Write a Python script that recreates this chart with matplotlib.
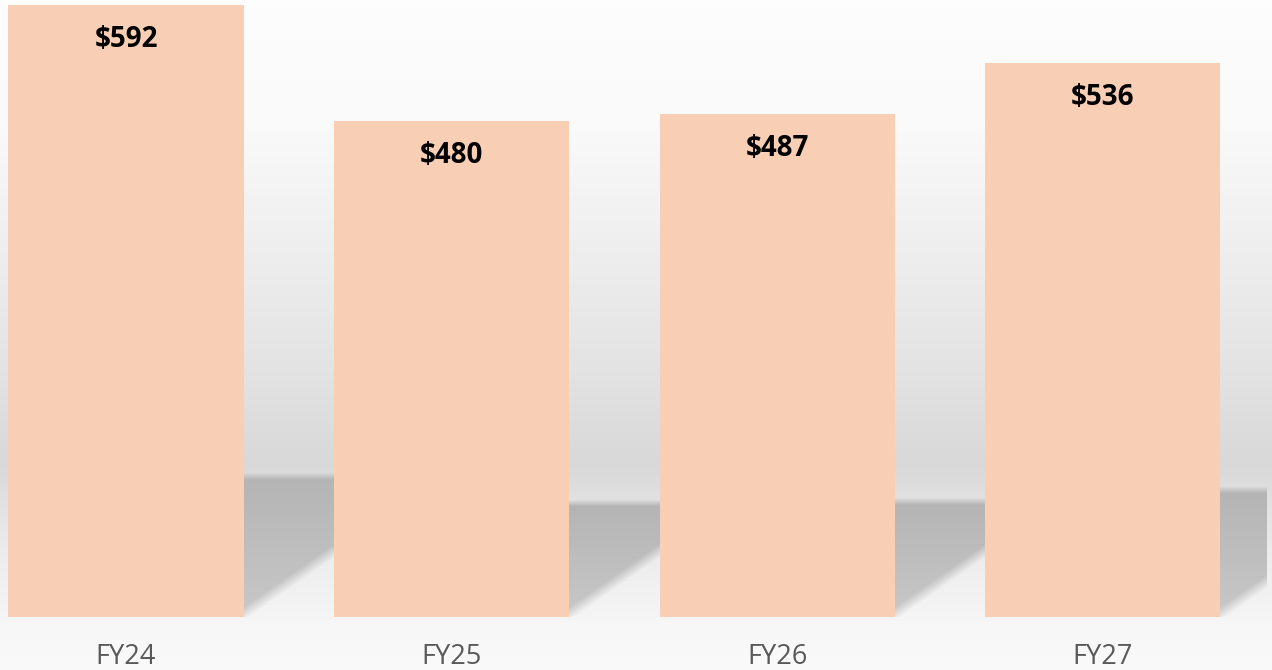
import numpy as np
import matplotlib
matplotlib.use("Agg")
import matplotlib.pyplot as plt

categories = ["FY24", "FY25", "FY26", "FY27"]
values = [592, 480, 487, 536]
value_labels = ["$592", "$480", "$487", "$536"]

W, H = 1272, 670
fig = plt.figure(figsize=(W / 100, H / 100), dpi=100)

# background axes in pixel coordinates
bg = fig.add_axes([0, 0, 1, 1], zorder=0)
bg.set_xlim(0, W)
bg.set_ylim(H, 0)
bg.axis("off")

bottom_px = 617
ax = fig.add_axes([0, (H - bottom_px) / H, 1, bottom_px / H], zorder=1)
ax.set_facecolor("none")
x = np.arange(len(categories))
ax.set_xlim(-0.3871, 3.5207)
ax.set_ylim(0, 597)
bar_w = 0.722
bars = ax.bar(x, values, width=bar_w, color="#F8CFB4", linewidth=0, zorder=3)

for s in ax.spines.values():
    s.set_visible(False)
ax.set_yticks([])
ax.set_xticks(x)
ax.set_xticklabels(categories, fontsize=19.5, color="#595959", family="Open Sans")
ax.tick_params(axis="x", length=0, pad=19)

for xi, v, lab in zip(x, values, value_labels):
    ax.annotate(lab, (xi, v), xytext=(0, -25), textcoords="offset points",
                ha="center", va="center", fontsize=20, fontweight="bold",
                family="Open Sans", color="black", zorder=4)

# ---- background gradient + perspective shadows (derived from bar data) ----
stops_y = [0, 120, 230, 370, 465, 495, 550, 612, 625, 670]
stops_v = [253, 250, 240, 227, 216, 224, 236, 244, 247, 250]
rows = np.interp(np.arange(H), stops_y, stops_v)
img = np.repeat(rows[:, None], W, axis=1).astype(float)

yy, xx = np.mgrid[0:H, 0:W].astype(float)
yy += 0.5
xx += 0.5
clip_right = 1267
slope = 0.7
for xi, v in zip(x, values):
    (xr_d, ytop_d) = ax.transData.transform((xi + bar_w / 2, v))
    (_, ybot_d) = ax.transData.transform((xi, 0))
    xr = xr_d
    ytop = H - ytop_d
    ybot = H - ybot_d
    hpx = ybot - ytop
    ys = ybot - 0.23 * hpx
    d_top = yy - ys
    d_diag = (ybot - slope * (xx - xr)) - yy
    a_top = np.clip(d_top / 7.0 + 0.5, 0, 1)
    a_diag = np.clip(d_diag / 14.0 + 0.3, 0, 1)
    a_x = ((xx >= xr - 4) & (xx <= clip_right) & (yy <= ybot)).astype(float)
    a = a_top * a_diag * a_x
    c = 180 + 20 * np.clip((yy - ys) / max(ybot - ys, 1), 0, 1)
    img = img * (1 - a) + c * a

rgb = np.clip(np.stack([img, img, img], axis=-1) / 255.0, 0, 1)
bg.imshow(rgb, extent=(0, W, H, 0), aspect="auto", interpolation="nearest")

fig.savefig("out.png", dpi=100)
